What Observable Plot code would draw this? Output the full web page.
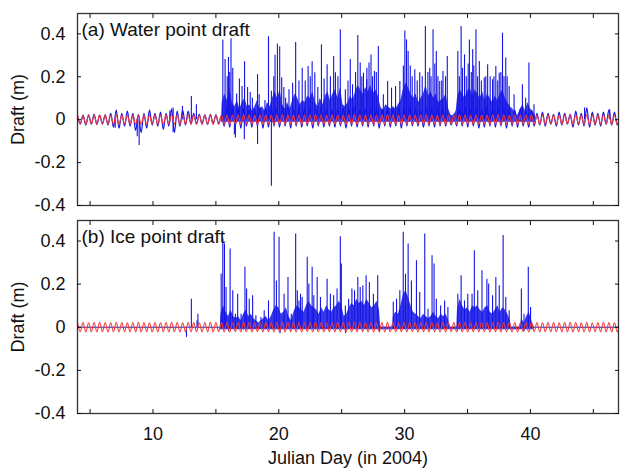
<!DOCTYPE html>
<html>
<head>
<meta charset="utf-8">
<script src="https://cdn.jsdelivr.net/npm/d3@7"></script>
<script src="https://cdn.jsdelivr.net/npm/@observablehq/plot@0.6"></script>
<style>
  html, body { margin: 0; padding: 0; background: #fff; }
  #chart { width: 622px; height: 470px; }
  #chart svg { display: block; overflow: visible; font-family: "Liberation Sans", Arial, sans-serif; }
</style>
</head>
<body>
<div id="chart"></div>
<script>
// ---------- data ----------
const xTicks = [5, 10, 15, 20, 25, 30, 35, 40, 45];
const xTickLabels = [10, 20, 30, 40];
const yTicks = [-0.4, -0.2, 0, 0.2, 0.4];
const panelTitles = ["(a) Water point draft", "(b) Ice point draft"];
const xTitle = "Julian Day (in 2004)";
const yTitle = "Draft (m)";

// tide (red) extremes sampled every 0.22 day starting at day 4
const tideStart = 4;
const tideStep = 0.22;
const tideValues = [
  0.022,-0.021,0.022,-0.022,0.021,-0.021,0.022,-0.022,0.023,-0.021,
  0.022,-0.022,0.021,-0.021,0.022,-0.022,0.022,-0.021,0.021,-0.022,
  0.022,-0.021,0.023,-0.022,0.022,-0.021,0.021,-0.022,0.022,-0.022,
  0.021,-0.021,0.022,-0.022,0.023,-0.021,0.022,-0.022,0.021,-0.021,
  0.022,-0.022,0.022,-0.021,0.021,-0.022,0.022,-0.021,0.023,-0.022,
  0.022,-0.021,0.021,-0.022,0.022,-0.022,0.021,-0.021,0.022,-0.022,
  0.023,-0.021,0.022,-0.022,0.021,-0.021,0.022,-0.022,0.022,-0.021,
  0.021,-0.022,0.022,-0.021,0.023,-0.022,0.022,-0.021,0.021,-0.022,
  0.022,-0.022,0.021,-0.021,0.022,-0.022,0.023,-0.021,0.022,-0.022,
  0.021,-0.021,0.022,-0.022,0.022,-0.021,0.021,-0.022,0.022,-0.021,
  0.023,-0.022,0.022,-0.021,0.021,-0.022,0.022,-0.022,0.021,-0.021,
  0.022,-0.022,0.023,-0.021,0.022,-0.022,0.021,-0.021,0.022,-0.022,
  0.022,-0.021,0.021,-0.022,0.022,-0.021,0.023,-0.022,0.022,-0.021,
  0.021,-0.022,0.022,-0.022,0.021,-0.021,0.022,-0.022,0.023,-0.021,
  0.022,-0.022,0.021,-0.021,0.022,-0.022,0.022,-0.021,0.021,-0.022,
  0.022,-0.021,0.023,-0.022,0.022,-0.021,0.021,-0.022,0.022,-0.022,
  0.021,-0.021,0.022,-0.022,0.023,-0.021,0.022,-0.022,0.021,-0.021,
  0.022,-0.022,0.022,-0.021,0.021,-0.022,0.022,-0.021,0.023,-0.022,
  0.022,-0.021,0.021,-0.022,0.022,-0.022,0.021,-0.021,0.022,-0.022,
  0.023,-0.021,0.022,-0.022,0.021,-0.021,0.022
];

// water point draft: low-level oscillation on the same 0.22-day grid
const waterBase = [
  0.02,-0.02,0.02,-0.025,0.022,-0.02,0.025,-0.022,0.02,-0.02,
  0.022,-0.025,0.03,-0.035,0.045,-0.04,0.03,-0.03,0.04,-0.03,
  0.03,-0.05,0.025,-0.06,0.03,-0.04,0.045,-0.025,0.03,-0.03,
  0.035,-0.045,0.03,-0.03,0.05,-0.06,0.04,-0.03,0.045,-0.025,
  0.04,-0.02,0.03,-0.02,0.025,-0.02,0.022,-0.022,0.025,-0.02,
  0.022,-0.02,0.02,
  -0.03,0.05,-0.035,0.06,-0.03,0.05,-0.04,0.05,-0.03,0.045,
  -0.035,0.05,-0.03,0.055,-0.04,0.05,-0.035,0.06,-0.03,0.05,
  -0.035,0.055,-0.03,0.06,-0.04,0.05,-0.03,0.06,-0.035,0.05,
  -0.03,0.055,-0.04,0.05,-0.03,0.06,-0.035,0.05,-0.03,0.045,
  -0.035,0.05,-0.03,0.055,-0.04,0.05,-0.03,0.06,-0.035,0.05,
  -0.03,0.05,-0.035,0.055,-0.03,0.05,-0.04,0.05,-0.03,0.06,
  -0.035,0.05,-0.03,0.055,-0.04,0.05,-0.03,0.055,-0.03,0.05,
  -0.03,0.04,-0.035,0.05,-0.03,0.05,-0.035,0.06,-0.03,0.05,
  -0.03,0.025,-0.025,0.025,-0.03,0.05,-0.03,0.06,-0.035,0.05,
  -0.03,0.055,-0.04,0.05,-0.035,0.06,-0.03,0.05,-0.035,0.055,
  -0.03,0.05,-0.04,0.05,-0.03,0.045,-0.035,0.05,-0.03,0.04,
  -0.035,0.04,-0.03,
  0.03,-0.025,0.035,-0.03,0.03,-0.02,0.025,-0.03,0.035,-0.025,
  0.03,-0.02,0.025,-0.035,0.04,-0.025,0.03,-0.03,0.055,-0.035,
  0.035,-0.025,0.03,-0.03,0.035,-0.02,0.046,-0.025,0.035,-0.025,
  0.03
];

// water point draft: individual spikes [day, draft]
const waterSpikes = [
  [7.0,-0.04],[8.75,-0.08],[8.9,-0.12],[11.34,0.04],[11.6,0.055],[11.6,-0.06],
  [12.34,0.062],[13.05,0.108],[13.45,0.07],
  [15.55,0.372],[15.73,0.28],[15.9,0.2],[16.0,0.29],[16.1,0.22],[16.2,0.377],[16.34,0.24],
  [16.47,-0.07],[16.55,-0.085],[16.65,0.12],[16.87,0.19],[17.08,0.155],[17.26,-0.093],
  [17.28,0.27],[17.52,0.15],[17.73,0.127],[17.9,0.1],[18.31,0.21],[18.31,-0.116],
  [18.44,0.116],[18.9,0.09],[19.18,0.387],[19.41,0.132],[19.41,-0.31],[19.6,0.2],
  [19.7,0.30],[19.89,0.352],[20.07,0.34],[20.23,0.195],[20.4,0.15],[20.54,0.10],
  [20.81,0.14],[21.1,0.17],[21.34,0.36],[21.6,0.18],[21.86,0.24],[22.1,0.18],
  [22.33,0.248],[22.5,0.2],[22.65,0.27],[22.86,0.219],[23.1,0.15],[23.39,0.349],
  [23.6,0.19],[23.84,0.256],[24.1,0.2],[24.36,0.294],[24.5,0.219],[24.7,0.2],
  [24.89,0.419],[25.29,0.14],[25.5,0.18],[25.68,0.28],[25.86,0.163],[26.1,0.22],
  [26.28,0.392],[26.47,0.264],[26.6,0.2],[26.73,0.217],[26.99,0.186],[27.0,0.24],
  [27.17,0.264],[27.33,0.302],[27.45,0.2],[27.6,0.225],[27.75,0.22],[27.91,0.341],
  [28.31,0.116],[28.65,0.178],[28.96,0.147],[29.28,0.155],[29.62,0.178],[29.9,0.25],
  [30.02,0.414],[30.15,0.372],[30.28,0.318],[30.45,0.25],[30.6,0.2],[30.81,0.233],
  [31.0,0.18],[31.2,0.219],[31.4,0.2],[31.65,0.434],[31.85,0.22],[32.0,0.24],
  [32.1,0.2],[32.26,0.419],[32.4,0.26],[32.52,0.318],[32.65,0.2],[32.79,0.178],
  [32.95,0.18],[33.05,0.225],[33.25,0.2],[33.39,0.295],[34.23,0.318],[34.35,0.2],
  [34.49,0.434],[34.6,0.24],[34.76,0.302],[34.9,0.2],[35.05,0.26],[35.15,0.372],
  [35.3,0.22],[35.41,0.326],[35.5,0.25],[35.67,0.419],[35.8,0.2],[35.94,0.271],
  [36.1,0.18],[36.33,0.194],[36.45,0.2],[36.6,0.256],[36.8,0.2],[36.99,0.186],
  [37.1,0.2],[37.25,0.248],[37.4,0.18],[37.52,0.217],[37.65,0.22],[37.78,0.403],
  [37.9,0.2],[38.04,0.287],[38.15,0.2],[38.31,0.155],[38.7,0.116],[39.36,0.163],
  [39.62,0.1],[39.88,0.264],[40.28,0.07],[44.3,0.055],[46.3,0.046]
];

// water point draft: upper edge of the dense cluster of readings [day, draft]
const waterBand = [
  [15.45,0.0],[15.5,0.08],[15.7,0.12],[15.9,0.09],[16.1,0.15],[16.3,0.08],[16.5,0.06],
  [16.7,0.09],[16.9,0.05],[17.1,0.08],[17.3,0.1],[17.5,0.06],[17.7,0.07],[17.9,0.04],
  [18.1,0.06],[18.3,0.09],[18.5,0.05],[18.7,0.06],[18.9,0.04],[19.1,0.08],[19.3,0.06],
  [19.5,0.1],[19.7,0.13],[19.9,0.1],[20.1,0.14],[20.3,0.07],[20.5,0.05],[20.7,0.08],
  [20.9,0.05],[21.1,0.09],[21.3,0.12],[21.5,0.1],[21.7,0.07],[21.9,0.09],[22.1,0.08],
  [22.3,0.11],[22.5,0.1],[22.7,0.13],[22.9,0.08],[23.1,0.06],[23.3,0.1],[23.5,0.07],
  [23.7,0.11],[23.9,0.13],[24.1,0.09],[24.3,0.12],[24.5,0.14],[24.7,0.1],[24.9,0.15],
  [25.1,0.07],[25.3,0.06],[25.5,0.08],[25.7,0.11],[25.9,0.09],[26.1,0.13],[26.3,0.16],
  [26.5,0.14],[26.7,0.12],[26.9,0.15],[27.1,0.13],[27.3,0.16],[27.5,0.12],[27.7,0.14],
  [27.9,0.11],[28.1,0.06],[28.3,0.04],[28.5,0.07],[28.7,0.06],[28.9,0.05],[29.1,0.06],
  [29.3,0.05],[29.5,0.07],[29.7,0.09],[29.9,0.14],[30.1,0.17],[30.3,0.15],[30.5,0.12],
  [30.7,0.1],[30.9,0.12],[31.1,0.08],[31.3,0.1],[31.5,0.12],[31.7,0.16],[31.9,0.11],
  [32.1,0.13],[32.3,0.1],[32.5,0.12],[32.7,0.08],[32.9,0.09],[33.1,0.1],[33.3,0.12],
  [33.5,0.05],[33.7,0.02],[33.9,0.02],[34.1,0.04],[34.2,0.1],[34.4,0.14],[34.6,0.12],
  [34.8,0.1],[35.0,0.13],[35.2,0.15],[35.4,0.11],[35.6,0.14],[35.8,0.12],[36.0,0.1],
  [36.2,0.13],[36.4,0.09],[36.6,0.12],[36.8,0.1],[37.0,0.08],[37.2,0.11],[37.4,0.09],
  [37.6,0.12],[37.8,0.14],[38.0,0.1],[38.2,0.08],[38.4,0.06],[38.6,0.05],[38.8,0.03],
  [39.0,0.02],[39.2,0.05],[39.4,0.07],[39.6,0.04],[39.8,0.08],[40.0,0.05],[40.2,0.04],
  [40.4,0.02]
];

// ice point draft: zero where no ice, spikes [day, draft]
const iceLevel = 0;
const iceSpikes = [
  [12.66,-0.047],[13.05,0.13],[13.5,0.03],[13.57,0.06],[15.42,0.247],[15.55,0.409],
  [15.68,0.386],[15.81,0.184],[16.0,-0.02],[16.13,0.363],[16.34,0.169],[16.55,0.06],
  [16.73,0.153],[17.0,0.06],[17.31,0.278],[17.44,0.177],[17.65,0.13],[17.92,0.146],
  [18.18,0.053],[18.58,0.045],[18.84,0.076],[19.18,0.122],[19.63,0.44],[19.81,0.215],
  [20.02,0.417],[20.1,-0.03],[20.42,0.153],[20.73,0.231],[20.99,0.06],[21.34,0.432],
  [21.47,0.169],[21.6,0.122],[21.73,0.153],[21.86,0.138],[22.26,0.324],[22.39,0.2],
  [22.65,0.278],[22.78,0.146],[23.05,0.231],[23.31,0.138],[23.84,0.223],[24.1,0.153],
  [24.36,0.146],[24.63,0.177],[24.89,0.42],[24.97,0.293],[25.29,0.099],[25.3,-0.03],
  [25.55,0.13],[25.81,0.177],[26.02,0.169],[26.28,0.231],[26.47,0.184],[26.68,0.192],
  [26.94,0.239],[27.2,0.208],[27.52,0.153],[27.86,0.239],[28.0,-0.025],[29.1,0.116],
  [29.36,0.13],[29.62,0.169],[29.89,0.44],[30.07,0.246],[30.28,0.386],[30.54,0.215],
  [30.94,0.308],[31.2,0.161],[31.6,0.432],[31.86,0.084],[32.18,0.332],[32.34,0.293],
  [32.52,0.13],[32.86,0.099],[33.18,0.122],[33.44,0.092],[34.2,-0.02],[34.23,0.153],
  [34.49,0.239],[34.76,0.122],[35.02,0.153],[35.36,0.153],[35.54,0.355],[35.81,0.169],
  [36.15,0.262],[36.54,0.223],[36.68,0.2],[36.99,0.146],[37.25,0.231],[37.52,0.192],
  [37.83,0.425],[38.04,0.138],[38.31,0.076],[39.28,0.177],[39.49,0.06],[39.5,-0.02],
  [39.83,0.278],[40.01,0.092]
];

// ice point draft: upper edge of the dense cluster [day, draft]
const iceBand = [
  [15.35,0],[15.4,0.06],[15.6,0.1],[15.8,0.07],[16.0,0.05],[16.2,0.08],[16.4,0.05],
  [16.6,0.04],[16.8,0.05],[17.0,0.03],[17.2,0.06],[17.4,0.08],[17.6,0.05],[17.8,0.06],
  [18.0,0.04],[18.2,0.03],[18.4,0.02],[18.6,0.03],[18.8,0.04],[19.0,0.05],[19.2,0.03],
  [19.4,0.05],[19.6,0.08],[19.8,0.1],[20.0,0.09],[20.2,0.06],[20.4,0.07],[20.6,0.09],
  [20.8,0.05],[21.0,0.03],[21.2,0.07],[21.4,0.1],[21.6,0.09],[21.8,0.08],[22.0,0.07],
  [22.2,0.1],[22.4,0.12],[22.6,0.1],[22.8,0.09],[23.0,0.08],[23.2,0.06],[23.4,0.09],
  [23.6,0.07],[23.8,0.1],[24.0,0.08],[24.2,0.07],[24.4,0.09],[24.6,0.1],[24.8,0.12],
  [25.0,0.1],[25.2,0.05],[25.4,0.06],[25.6,0.09],[25.8,0.11],[26.0,0.1],[26.2,0.13],
  [26.4,0.11],[26.6,0.12],[26.8,0.1],[27.0,0.13],[27.2,0.11],[27.4,0.09],[27.6,0.1],
  [27.8,0.12],[28.0,0.08],[28.1,0],[29.05,0],[29.1,0.05],[29.3,0.07],[29.5,0.06],
  [29.7,0.1],[29.9,0.15],[30.1,0.17],[30.3,0.14],[30.5,0.1],[30.7,0.07],[30.9,0.06],
  [31.1,0.05],[31.3,0.04],[31.5,0.06],[31.7,0.05],[31.9,0.04],[32.1,0.05],[32.3,0.07],
  [32.5,0.05],[32.7,0.04],[32.9,0.06],[33.1,0.05],[33.3,0.06],[33.5,0.03],[33.6,0],
  [34.15,0],[34.2,0.08],[34.4,0.13],[34.6,0.1],[34.8,0.08],[35.0,0.09],[35.2,0.07],
  [35.4,0.1],[35.6,0.09],[35.8,0.1],[36.0,0.08],[36.2,0.07],[36.4,0.09],[36.6,0.1],
  [36.8,0.07],[37.0,0.06],[37.2,0.08],[37.4,0.1],[37.6,0.07],[37.8,0.09],[38.0,0.08],
  [38.2,0.06],[38.4,0.03],[38.5,0],[39.2,0],[39.3,0.04],[39.5,0.02],[39.7,0.05],
  [39.9,0.07],[40.1,0.03],[40.3,0]
];

// ---------- drawing ----------
const BLUE = "#1414e6";
const RED = "#f03a3a";
const FONT = 18;

const tideData = tideValues.map((v, i) => ({day: tideStart + i * tideStep, v}));
const waterBaseData = waterBase.map((v, i) => ({day: tideStart + i * tideStep, v}));

const fmtY = d => d === 0 ? "0" : d.toFixed(1);

function panel({title, band, spikes, baseLine, flat, height, marginTop, marginBottom, showX, titleSize}) {
  const marks = [
    Plot.areaY(band, {x: d => d[0], y1: -0.012, y2: d => d[1], fill: BLUE, fillOpacity: 0.85, clip: true}),
    Plot.ruleX(spikes, {x: d => d[0], y1: 0, y2: d => d[1], stroke: BLUE, strokeWidth: 1.1, clip: true})
  ];
  if (baseLine) marks.push(Plot.line(baseLine, {x: "day", y: "v", stroke: BLUE, strokeWidth: 1.2, curve: "monotone-x", clip: true}));
  if (flat !== undefined) marks.push(Plot.ruleY([flat], {stroke: "#2020b0", strokeWidth: 1.2}));
  marks.push(
    Plot.line(tideData, {x: "day", y: "v", stroke: RED, strokeWidth: 1.1, curve: "monotone-x", clip: true}),
    Plot.frame({stroke: "#333", strokeWidth: 1.3}),
    Plot.axisY({anchor: "left", ticks: yTicks, tickSize: -4, tickPadding: 16, tickFormat: fmtY,
      fontSize: FONT, label: yTitle, labelAnchor: "center", labelOffset: 66, labelArrow: "none"}),
    Plot.axisY({anchor: "right", ticks: yTicks, tickSize: -4, tickFormat: () => "", label: null}),
    Plot.axisX({anchor: "top", ticks: xTicks, tickSize: -4, tickFormat: () => "", label: null}),
    showX
      ? Plot.axisX({anchor: "bottom", ticks: xTicks, tickSize: -4, tickPadding: 18, fontSize: FONT,
          tickFormat: d => xTickLabels.includes(d) ? String(d) : "",
          label: xTitle, labelAnchor: "center", labelOffset: 50, labelArrow: "none"})
      : Plot.axisX({anchor: "bottom", ticks: xTicks, tickSize: -4, tickFormat: () => "", label: null}),
    Plot.text([title], {frameAnchor: "top-left", dx: 4, dy: 9, fontSize: titleSize, textAnchor: "start", lineAnchor: "top", fill: "#111"})
  );
  return Plot.plot({
    width: 622,
    height,
    marginLeft: 77,
    marginRight: 4,
    marginTop,
    marginBottom,
    style: {fontFamily: "Liberation Sans, Arial, sans-serif", fontSize: FONT + "px", color: "#111", background: "transparent", overflow: "visible"},
    x: {domain: [4, 47]},
    y: {domain: [-0.4, 0.495]},
    marks
  });
}

const chart = document.getElementById("chart");
chart.append(panel({title: panelTitles[0], band: waterBand, spikes: waterSpikes, baseLine: waterBaseData,
  height: 213, marginTop: 13, marginBottom: 8, showX: false, titleSize: 19}));
chart.append(panel({title: panelTitles[1], band: iceBand, spikes: iceSpikes, flat: iceLevel,
  height: 257, marginTop: 7, marginBottom: 57, showX: true, titleSize: 19}));
</script>
</body>
</html>
